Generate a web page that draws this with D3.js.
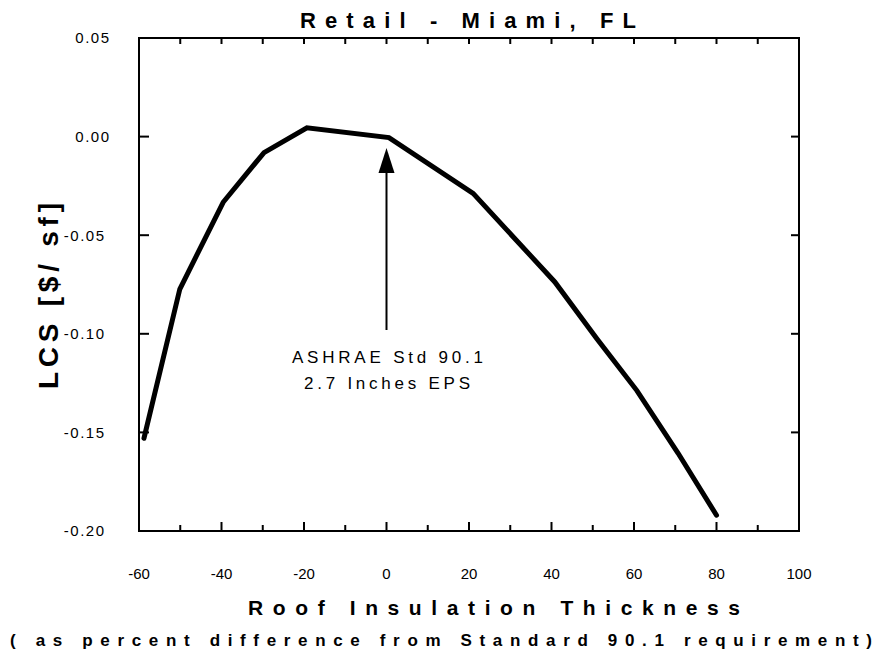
<!DOCTYPE html>
<html>
<head>
<meta charset="utf-8">
<script src="https://cdn.jsdelivr.net/npm/d3@7"></script>
<style>
  body { margin: 0; background: #fff; }
  svg { display: block; }
  text { font-family: "Liberation Sans", Arial, sans-serif; fill: #000; }
</style>
</head>
<body>
<script>
// Roof insulation thickness (% difference from Standard 90.1) vs. life-cycle savings
const insulationDiff = [-58.8, -50.1, -39.6, -29.7, -19.3, 0.6, 21.0, 40.8, 51.0, 60.7, 70.7, 80.0];
const lcsValues = [-0.153, -0.0773, -0.0333, -0.0081, 0.0045, -0.0005, -0.0288, -0.0737, -0.1025, -0.1288, -0.1606, -0.192];

const xMajorTicks = [-60, -40, -20, 0, 20, 40, 60, 80, 100];
const xMinorTicks = [-50, -30, -10, 10, 30, 50, 70, 90];
const yTicks = [0.05, 0.00, -0.05, -0.10, -0.15, -0.20];

const chartTitle = "Retail - Miami, FL";
const yTitle = "LCS [$/ sf]";
const xTitle = "Roof Insulation Thickness";
const xSubtitle = "( as percent difference from Standard 90.1 requirement)";
const noteLines = ["ASHRAE Std 90.1", "2.7 Inches EPS"];
const noteX = 0;

const W = 883, H = 662;
const frame = { left: 139, right: 799, top: 38, bottom: 531 };

const fmt = d3.formatLocale({ decimal: ".", thousands: ",", grouping: [3], currency: ["$", ""], minus: "-" });
const yFmt = fmt.format(".2f");
const xFmt = fmt.format("d");

const svg = d3.select("body").append("svg").attr("width", W).attr("height", H);

const x = d3.scaleLinear().domain([-60, 100]).range([frame.left, frame.right]);
const y = d3.scaleLinear().domain([-0.20, 0.05]).range([frame.bottom, frame.top]);

// Plot frame
svg.append("rect")
  .attr("x", x(-60)).attr("y", y(0.05))
  .attr("width", x(100) - x(-60)).attr("height", y(-0.20) - y(0.05))
  .attr("fill", "none").attr("stroke", "#000").attr("stroke-width", 2);

// Inward ticks
const tickG = svg.append("g").attr("stroke", "#000").attr("stroke-width", 2);
const inner = v => v > -60 && v < 100;
tickG.selectAll(".xb").data(xMajorTicks.filter(inner)).join("line")
  .attr("x1", d => x(d)).attr("x2", d => x(d))
  .attr("y1", y(-0.20)).attr("y2", y(-0.20) - 9);
tickG.selectAll(".xbm").data(xMinorTicks).join("line")
  .attr("x1", d => x(d)).attr("x2", d => x(d))
  .attr("y1", y(-0.20)).attr("y2", y(-0.20) - 6);
tickG.selectAll(".xt").data(xMajorTicks.concat(xMinorTicks).filter(inner)).join("line")
  .attr("x1", d => x(d)).attr("x2", d => x(d))
  .attr("y1", y(0.05)).attr("y2", y(0.05) + 6);
const yInner = yTicks.filter(v => v < 0.05 && v > -0.20);
tickG.selectAll(".yl").data(yInner).join("line")
  .attr("x1", x(-60)).attr("x2", x(-60) + 10)
  .attr("y1", d => y(d)).attr("y2", d => y(d));
tickG.selectAll(".yr").data(yInner).join("line")
  .attr("x1", x(100)).attr("x2", x(100) - 8)
  .attr("y1", d => y(d)).attr("y2", d => y(d));

// Tick labels
svg.append("g").selectAll("text").data(yTicks).join("text")
  .attr("x", d => d < 0 ? 105.5 : 110.5)
  .attr("y", d => y(d))
  .attr("dy", "0.36em")
  .attr("text-anchor", "end")
  .attr("font-size", 15)
  .attr("letter-spacing", "1.5px")
  .text(d => yFmt(d));

svg.append("g").selectAll("text").data(xMajorTicks).join("text")
  .attr("x", d => x(d))
  .attr("y", 579)
  .attr("text-anchor", "middle")
  .attr("font-size", 15)
  .text(d => xFmt(d));

// Curve
const line = d3.line().x(d => x(d[0])).y(d => y(d[1]));
svg.append("path")
  .datum(d3.zip(insulationDiff, lcsValues))
  .attr("d", line)
  .attr("fill", "none").attr("stroke", "#000")
  .attr("stroke-width", 5)
  .attr("stroke-linecap", "round")
  .attr("stroke-linejoin", "miter");

// Annotation arrow pointing at the Standard 90.1 level
const ax = x(noteX);
svg.append("line")
  .attr("x1", ax).attr("x2", ax).attr("y1", 330).attr("y2", 168)
  .attr("stroke", "#000").attr("stroke-width", 2);
svg.append("path")
  .attr("d", `M${ax},148 L${ax - 8},173 L${ax + 8},173 Z`)
  .attr("fill", "#000");

const noteLayout = [{ dx: -94.5, len: 191 }, { dx: -82.5, len: 166 }];
svg.append("g").selectAll("text").data(noteLines).join("text")
  .attr("x", (d, i) => ax + noteLayout[i].dx)
  .attr("y", (d, i) => 363 + i * 26)
  .attr("font-size", 17)
  .attr("textLength", (d, i) => noteLayout[i].len)
  .attr("lengthAdjust", "spacing")
  .text(d => d);

// Titles
svg.append("text")
  .attr("x", 300).attr("y", 28)
  .attr("font-size", 22).attr("font-weight", "bold")
  .attr("textLength", 336).attr("lengthAdjust", "spacing")
  .text(chartTitle);

svg.append("text")
  .attr("transform", "translate(58,296) rotate(-90)")
  .attr("x", -93).attr("y", 0)
  .attr("font-size", 28).attr("font-weight", "bold")
  .attr("textLength", 186).attr("lengthAdjust", "spacing")
  .text(yTitle);

svg.append("text")
  .attr("x", 248).attr("y", 615)
  .attr("font-size", 21).attr("font-weight", "bold")
  .attr("textLength", 492).attr("lengthAdjust", "spacing")
  .text(xTitle);

svg.append("text")
  .attr("x", 10).attr("y", 646)
  .attr("font-size", 17).attr("font-weight", "bold")
  .attr("textLength", 862).attr("lengthAdjust", "spacing")
  .text(xSubtitle);
</script>
</body>
</html>
